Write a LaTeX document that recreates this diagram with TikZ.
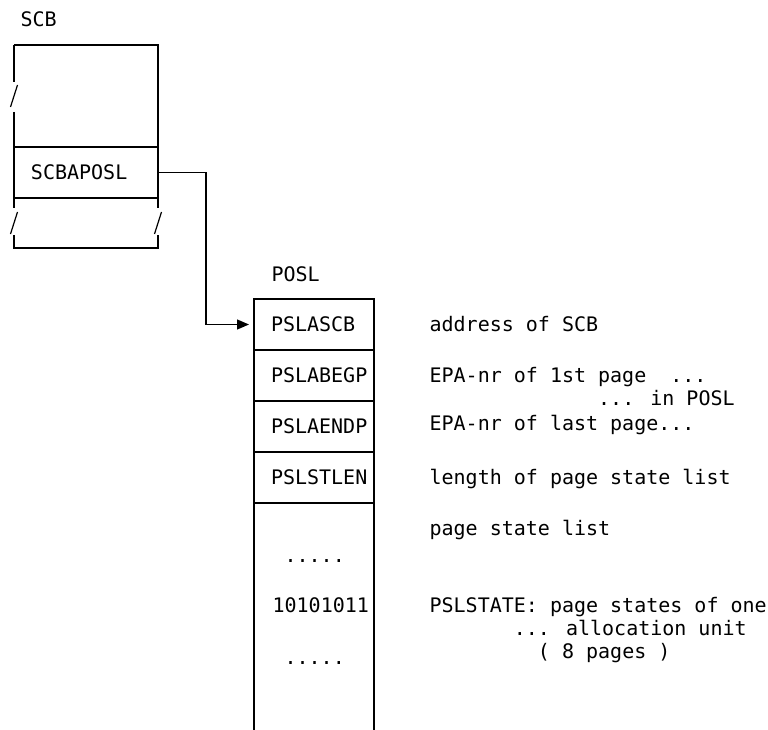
\documentclass[tikz,border=0pt]{standalone}
\usepackage{fontspec}
\newfontfamily\listingfont{DejaVu Sans Mono}
\usetikzlibrary{arrows.meta, positioning, calc}
\newcommand{\figfont}{\listingfont\fontsize{20}{23}\selectfont}
\newcommand{\colsp}{\hspace*{12pt}}
\newcommand{\brkslash}[1]{\draw ($(#1)+(-3.5,11)$) -- ($(#1)+(3.5,-11)$);}

\begin{document}
\begin{tikzpicture}[
    x=1pt, y=-1pt,
    line width=1.2pt,
    node distance=0pt,
    field/.style = {rectangle, draw, outer sep=0pt, minimum height=51pt, inner xsep=5pt, inner ysep=0pt, align=left, font=\figfont},
    openfield/.style = {rectangle, outer sep=0pt, inner sep=0pt},
    boxtitle/.style = {inner sep=0pt, font=\figfont},
    content/.style = {inner sep=0pt, font=\figfont},
    remark/.style = {inner sep=0pt, align=left, font=\figfont},
    conn/.style = {draw, -{Triangle[length=12pt,width=10pt]}, shorten >=5pt}
]
    \useasboundingbox (0,0) rectangle (768,730);
    % SCB
    \node [openfield, minimum width=144pt, minimum height=102pt] (scbtop) at (86,96) {};
    \node [field, text width=134pt, below=of scbtop] (scbaposl) {\colsp SCBAPOSL};
    \node [openfield, minimum width=144pt, minimum height=50pt, below=of scbaposl] (scbbot) {};
    \node [boxtitle, above right=18pt and 6pt of scbtop.north west] (scbtitle) {SCB};
    \draw (scbtop.north west) -- ++(0,37);
    \brkslash{scbtop.west}
    \draw (scbtop.south west) ++(0,-35) -- (scbtop.south west);
    \draw (scbtop.north west) -- (scbtop.north east) -- (scbtop.south east);
    \draw (scbbot.north west) -- ++(0,10);
    \draw (scbbot.north east) -- ++(0,10);
    \brkslash{scbbot.west}
    \brkslash{scbbot.east}
    \draw (scbbot.south west) ++(0,-13) -- (scbbot.south west) -- (scbbot.south east) -- ++(0,-13);
    % POSL
    \node [field, text width=110pt] (pslascb) at (314,324.5) {\colsp PSLASCB};
    \node [field, text width=110pt, below=of pslascb] (pslabegp) {\colsp PSLABEGP};
    \node [field, text width=110pt, below=of pslabegp] (pslaendp) {\colsp PSLAENDP};
    \node [field, text width=110pt, below=of pslaendp] (pslstlen) {\colsp PSLSTLEN};
    \node [openfield, minimum width=120pt, minimum height=227pt, below=of pslstlen] (pslstate) {};
    \node [boxtitle, above right=17pt and 17pt of pslascb.north west] (posltitle) {POSL};
    \draw (pslstate.north west) -- (pslstate.south west);
    \draw (pslstate.north east) -- (pslstate.south east);
    \node [content, below right=59pt and 30pt of pslstate.north west, anchor=base west] (dotsa) {.....};
    \node [content, below right=109pt and 18pt of pslstate.north west, anchor=base west] (bits) {10101011};
    \node [content, below right=161pt and 30pt of pslstate.north west, anchor=base west] (dotsb) {.....};
    % remarks
    \node [remark, right=55pt of pslascb.base east, anchor=base west] (scbaddr) {address of SCB};
    \node [remark, right=55pt of pslabegp.base east, anchor=base west, yshift=-23pt] (begpnr) {EPA-nr of 1st page\ \ ...\\\hphantom{EPA-nr of 1st }... in POSL};
    \node [remark, right=55pt of pslaendp.base east, anchor=base west, yshift=3pt] (endpnr) {EPA-nr of last page...};
    \node [remark, right=55pt of pslstlen.base east, anchor=base west] (stlen) {length of page state list};
    \node [remark, below right=32pt and 55pt of pslstate.north east, anchor=base west] (statelist) {page state list};
    \node [remark, below right=109pt and 55pt of pslstate.north east, anchor=base west, yshift=-46pt] (stateunit) {PSLSTATE: page states of one\\\hphantom{PSLSTAT}... allocation unit\\\hphantom{PSLSTATE:}( 8 pages )};
    \draw [conn] (scbaposl.east) -- ++(48,0) |- (pslascb.west);
\end{tikzpicture}
\end{document}
